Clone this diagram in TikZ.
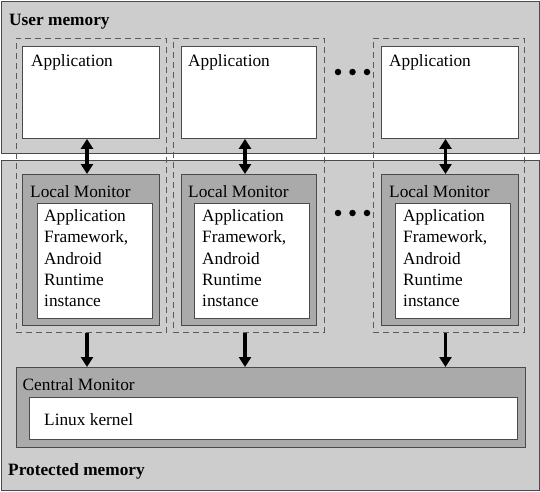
\documentclass[tikz,border=0pt]{standalone}
\usepackage{fontspec}
\setmainfont{Liberation Serif}
\usetikzlibrary{arrows.meta,calc}
\definecolor{lightg}{HTML}{CDCDCD}
\definecolor{midg}{HTML}{AAAAAA}
\definecolor{edgeg}{HTML}{4A4A4A}
\definecolor{dashg}{HTML}{5A5A5A}
\tikzset{
  region/.style={draw=edgeg, fill=lightg, line width=0.9pt, anchor=north west, inner sep=0pt},
  whitebox/.style={draw=edgeg, fill=white, line width=0.9pt, anchor=north west, inner sep=0pt},
  monbox/.style={draw=edgeg, fill=midg, line width=0.9pt, anchor=north west, inner sep=0pt},
  groupbox/.style={draw=dashg, dash pattern=on 6pt off 4pt, line width=0.9pt, anchor=north west, inner sep=0pt},
  lbl/.style={anchor=base west, inner sep=0pt, font=\fontsize{17.3}{21.25}\selectfont},
  blbl/.style={lbl, font=\fontsize{17.3}{21.25}\selectfont\bfseries},
  inner/.style={anchor=north west, inner sep=0pt, align=left, font=\fontsize{17.3}{21.25}\selectfont},
  dotmark/.style={circle, fill=black, inner sep=0pt, minimum size=6.5pt},
  onearrow/.style={line width=3.4pt, -{Triangle[width=12pt,length=10pt]}},
  twoarrow/.style={line width=3.4pt, {Triangle[width=12pt,length=10pt]}-{Triangle[width=12pt,length=10pt]}}
}
\begin{document}
\begin{tikzpicture}[x=1pt,y=-1pt]
\useasboundingbox (0,0) rectangle (540,491);
% regions
\node[region, minimum width=538pt, minimum height=152pt] (user) at (1,1) {};
\node[region, minimum width=538pt, minimum height=330pt] (prot) at (1,160) {};
\node[blbl] (usert) at (9,25) {User memory};
\node[blbl] (prott) at (8,475) {Protected memory};
% group (dashed) boxes
\node[groupbox, minimum width=150.5pt, minimum height=294pt] (g1) at (15.5,38) {};
\node[groupbox, minimum width=151pt, minimum height=294pt] (g2) at (173,38) {};
\node[groupbox, minimum width=151pt, minimum height=294pt] (g3) at (373,38) {};
% applications
\node[whitebox, minimum width=137pt, minimum height=92pt] (app1) at (22,46) {};
\node[whitebox, minimum width=135pt, minimum height=92pt] (app2) at (181,46) {};
\node[whitebox, minimum width=137pt, minimum height=92pt] (app3) at (381,46) {};
\node[lbl] (app1t) at (31,66) {Application};
\node[lbl] (app2t) at (188,66) {Application};
\node[lbl] (app3t) at (389,66) {Application};
% local monitors
\node[monbox, minimum width=137pt, minimum height=151pt] (lm1) at (22,174) {};
\node[monbox, minimum width=135pt, minimum height=151pt] (lm2) at (181,174) {};
\node[monbox, minimum width=137pt, minimum height=151pt] (lm3) at (381,174) {};
\node[lbl] (lm1t) at (30,197) {Local Monitor};
\node[lbl] (lm2t) at (188,197) {Local Monitor};
\node[lbl] (lm3t) at (389,197) {Local Monitor};
\node[whitebox, minimum width=115pt, minimum height=115pt] (fw1) at (37,203) {};
\node[whitebox, minimum width=115pt, minimum height=115pt] (fw2) at (194,203) {};
\node[whitebox, minimum width=115pt, minimum height=115pt] (fw3) at (395,203) {};
\node[inner] (fw1t) at (44,209.5) {Application\\Framework,\\Android\\Runtime\\instance};
\node[inner] (fw2t) at (202,209.5) {Application\\Framework,\\Android\\Runtime\\instance};
\node[inner] (fw3t) at (403,209.5) {Application\\Framework,\\Android\\Runtime\\instance};
% dots
\node[dotmark] (d1) at (338,72) {};
\node[dotmark] (d2) at (352.5,72) {};
\node[dotmark] (d3) at (367,72) {};
\node[dotmark] (d4) at (338,213) {};
\node[dotmark] (d5) at (352.5,213) {};
\node[dotmark] (d6) at (367,213) {};
% central monitor
\node[monbox, minimum width=509pt, minimum height=80pt] (cm) at (15.5,367) {};
\node[lbl] (cmt) at (22.5,390) {Central Monitor};
\node[whitebox, minimum width=488pt, minimum height=42pt] (lk) at (29,397) {};
\node[lbl] (lkt) at (44,425) {Linux kernel};
% arrows
\coordinate (x1) at (87,0);
\coordinate (x2) at (245,0);
\coordinate (x3) at (445.5,0);
\draw[twoarrow] (x1 |- app1.south) -- (x1 |- lm1.north);
\draw[twoarrow] (x2 |- app2.south) -- (x2 |- lm2.north);
\draw[twoarrow] (x3 |- app3.south) -- (x3 |- lm3.north);
\draw[onearrow] (x1 |- g1.south) -- (x1 |- cm.north);
\draw[onearrow] (x2 |- g2.south) -- (x2 |- cm.north);
\draw[onearrow] (x3 |- g3.south) -- (x3 |- cm.north);
\end{tikzpicture}
\end{document}
